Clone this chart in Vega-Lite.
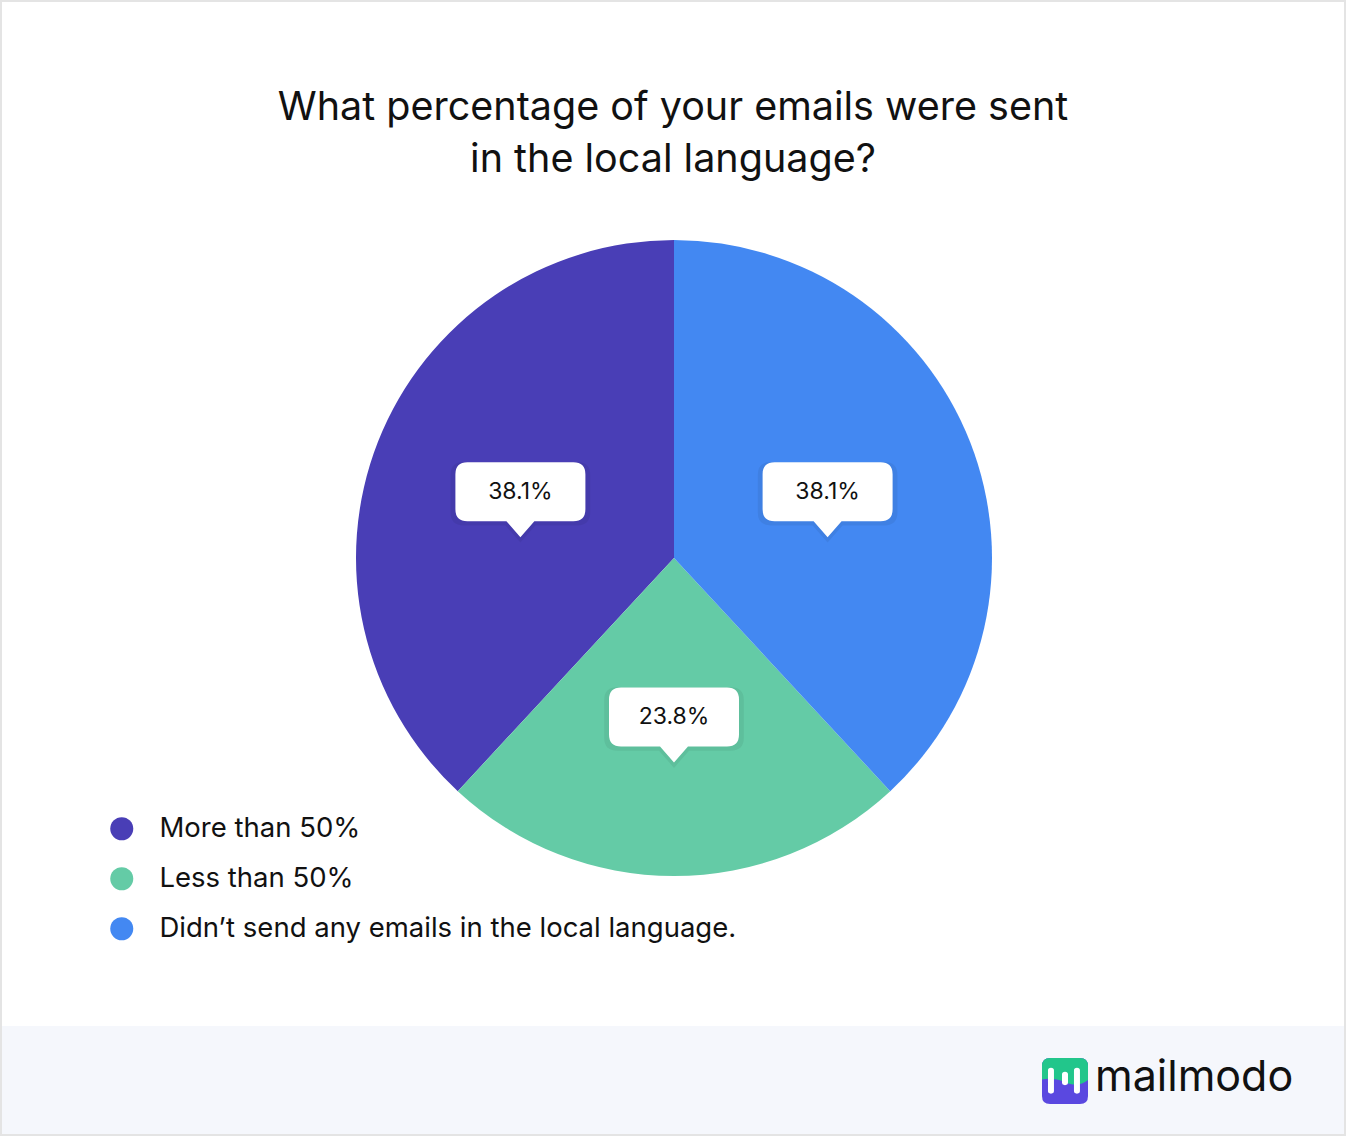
{
  "$schema": "https://vega.github.io/schema/vega-lite/v6.json",
  "width": 1342,
  "height": 1132,
  "autosize": {"type": "none"},
  "padding": 2,
  "background": "#E4E4E4",
  "config": {
    "font": "Inter",
    "view": {"stroke": null, "fill": "#ffffff"}
  },
  "title": {
    "text": ["What percentage of your emails were sent", "in the local language?"],
    "fontSize": 39.5,
    "fontWeight": "normal",
    "font": "Inter",
    "color": "#111111",
    "lineHeight": 52,
    "anchor": "middle",
    "frame": "group",
    "offset": -178
  },
  "datasets": {
    "answers": [
      {"answer": "More than 50%", "share": 38.1},
      {"answer": "Less than 50%", "share": 23.8},
      {"answer": "Didn’t send any emails in the local language.", "share": 38.1}
    ],
    "brand": [{"name": "mailmodo"}]
  },
  "layer": [
    {
      "data": {"name": "brand"},
      "mark": {"type": "rect", "fill": "#F5F7FC"},
      "encoding": {
        "x": {"datum": -672, "type": "quantitative", "scale": {"domain": [-672, 670], "nice": false, "zero": false}, "axis": null},
        "x2": {"datum": 670},
        "y": {"datum": -576, "type": "quantitative", "scale": {"domain": [-576, 556], "nice": false, "zero": false}, "axis": null},
        "y2": {"datum": -468}
      }
    },
    {
      "data": {"name": "answers"},
      "mark": {"type": "arc", "outerRadius": 318},
      "encoding": {
        "x": {"datum": 0, "type": "quantitative", "scale": {"domain": [-672, 670], "nice": false, "zero": false}, "axis": null},
        "y": {"datum": 0, "type": "quantitative", "scale": {"domain": [-576, 556], "nice": false, "zero": false}, "axis": null},
        "theta": {"field": "share", "type": "quantitative", "stack": true},
        "order": {"field": "answer", "type": "ordinal", "sort": "ascending"},
        "color": {
          "field": "answer",
          "type": "nominal",
          "scale": {
            "domain": ["More than 50%", "Less than 50%", "Didn’t send any emails in the local language."],
            "range": ["#493EB6", "#64CBA6", "#4388F2"]
          },
          "legend": {
            "title": null,
            "orient": "none",
            "legendX": 106,
            "legendY": 813,
            "symbolType": "circle",
            "symbolSize": 530,
            "symbolStrokeWidth": 0,
            "symbolOpacity": 1,
            "labelFontSize": 27.5,
            "labelFont": "Inter",
            "labelColor": "#111111",
            "labelLimit": 900,
            "labelOffset": 24,
            "rowPadding": 21,
            "padding": 0
          }
        }
      }
    },
    {
      "data": {"name": "answers"},
      "transform": [
        {"window": [{"op": "sum", "field": "share", "as": "cum"}], "sort": [{"field": "answer", "order": "ascending"}]},
        {"joinaggregate": [{"op": "sum", "field": "share", "as": "total"}]},
        {"calculate": "2*PI*(datum.cum - datum.share/2)/datum.total", "as": "mid"},
        {"calculate": "165*sin(datum.mid)", "as": "lx"},
        {"calculate": "165*cos(datum.mid)", "as": "ly"},
        {"calculate": "format(datum.share, '.1f') + '%'", "as": "label"}
      ],
      "encoding": {
        "x": {"field": "lx", "type": "quantitative", "scale": {"domain": [-672, 670], "nice": false, "zero": false}, "axis": null},
        "y": {"field": "ly", "type": "quantitative", "scale": {"domain": [-576, 556], "nice": false, "zero": false}, "axis": null}
      },
      "layer": [
        {
          "mark": {
            "type": "point",
            "shape": "M -0.815 -0.454 L 0.815 -0.454 Q 1 -0.454 1 -0.269 L 1 0.269 Q 1 0.454 0.815 0.454 L 0.215 0.454 L 0 0.7 L -0.215 0.454 L -0.815 0.454 Q -1 0.454 -1 0.269 L -1 -0.269 Q -1 -0.454 -0.815 -0.454 Z",
            "size": 19500,
            "filled": true,
            "fill": "#000000",
            "opacity": 0.06,
            "strokeWidth": 0,
            "yOffset": -4
          }
        },
        {
          "mark": {
            "type": "point",
            "shape": "M -0.815 -0.454 L 0.815 -0.454 Q 1 -0.454 1 -0.269 L 1 0.269 Q 1 0.454 0.815 0.454 L 0.215 0.454 L 0 0.7 L -0.215 0.454 L -0.815 0.454 Q -1 0.454 -1 0.269 L -1 -0.269 Q -1 -0.454 -0.815 -0.454 Z",
            "size": 16900,
            "filled": true,
            "fill": "#ffffff",
            "opacity": 1,
            "strokeWidth": 0,
            "yOffset": -6
          }
        },
        {
          "mark": {"type": "text", "fontSize": 23, "font": "Inter", "color": "#111111", "yOffset": -6, "baseline": "middle", "align": "center"},
          "encoding": {"text": {"field": "label", "type": "nominal"}}
        }
      ]
    },
    {
      "data": {"name": "brand"},
      "encoding": {
        "x": {"datum": 391, "type": "quantitative", "scale": {"domain": [-672, 670], "nice": false, "zero": false}, "axis": null},
        "y": {"datum": -523, "type": "quantitative", "scale": {"domain": [-576, 556], "nice": false, "zero": false}, "axis": null}
      },
      "layer": [
        {
          "mark": {
            "type": "point",
            "shape": "M -0.65 -1 L 0.65 -1 Q 1 -1 1 -0.65 L 1 0.65 Q 1 1 0.65 1 L -0.65 1 Q -1 1 -1 0.65 L -1 -0.65 Q -1 -1 -0.65 -1 Z",
            "size": 2116,
            "filled": true,
            "fill": "#5A48E0",
            "opacity": 1,
            "strokeWidth": 0
          }
        },
        {
          "mark": {
            "type": "point",
            "shape": "M -1 -0.07 L -1 -0.65 Q -1 -1 -0.65 -1 L 0.65 -1 Q 1 -1 1 -0.65 L 1 -0.04 C 0.7 0.2 0.35 0.2 0 0.05 C -0.35 -0.1 -0.7 -0.12 -1 -0.07 Z",
            "size": 2116,
            "filled": true,
            "fill": "#22C68B",
            "opacity": 1,
            "strokeWidth": 0
          }
        },
        {
          "mark": {
            "type": "point",
            "shape": "M -0.74 -0.47 Q -0.74 -0.58 -0.61 -0.58 Q -0.48 -0.58 -0.48 -0.47 L -0.48 0.44 Q -0.48 0.55 -0.61 0.55 Q -0.74 0.55 -0.74 0.44 Z M -0.13 -0.29 Q -0.13 -0.4 0 -0.4 Q 0.13 -0.4 0.13 -0.29 L 0.13 0.07 Q 0.13 0.18 0 0.18 Q -0.13 0.18 -0.13 0.07 Z M 0.39 -0.47 Q 0.39 -0.58 0.52 -0.58 Q 0.65 -0.58 0.65 -0.47 L 0.65 0.44 Q 0.65 0.55 0.52 0.55 Q 0.39 0.55 0.39 0.44 Z",
            "size": 2116,
            "filled": true,
            "fill": "#ffffff",
            "opacity": 1,
            "strokeWidth": 0
          }
        },
        {
          "mark": {"type": "text", "text": "mailmodo", "fontSize": 43, "fontWeight": 400, "font": "Inter", "color": "#111111", "align": "left", "baseline": "alphabetic", "dx": 30, "dy": 10}
        }
      ]
    }
  ]
}
